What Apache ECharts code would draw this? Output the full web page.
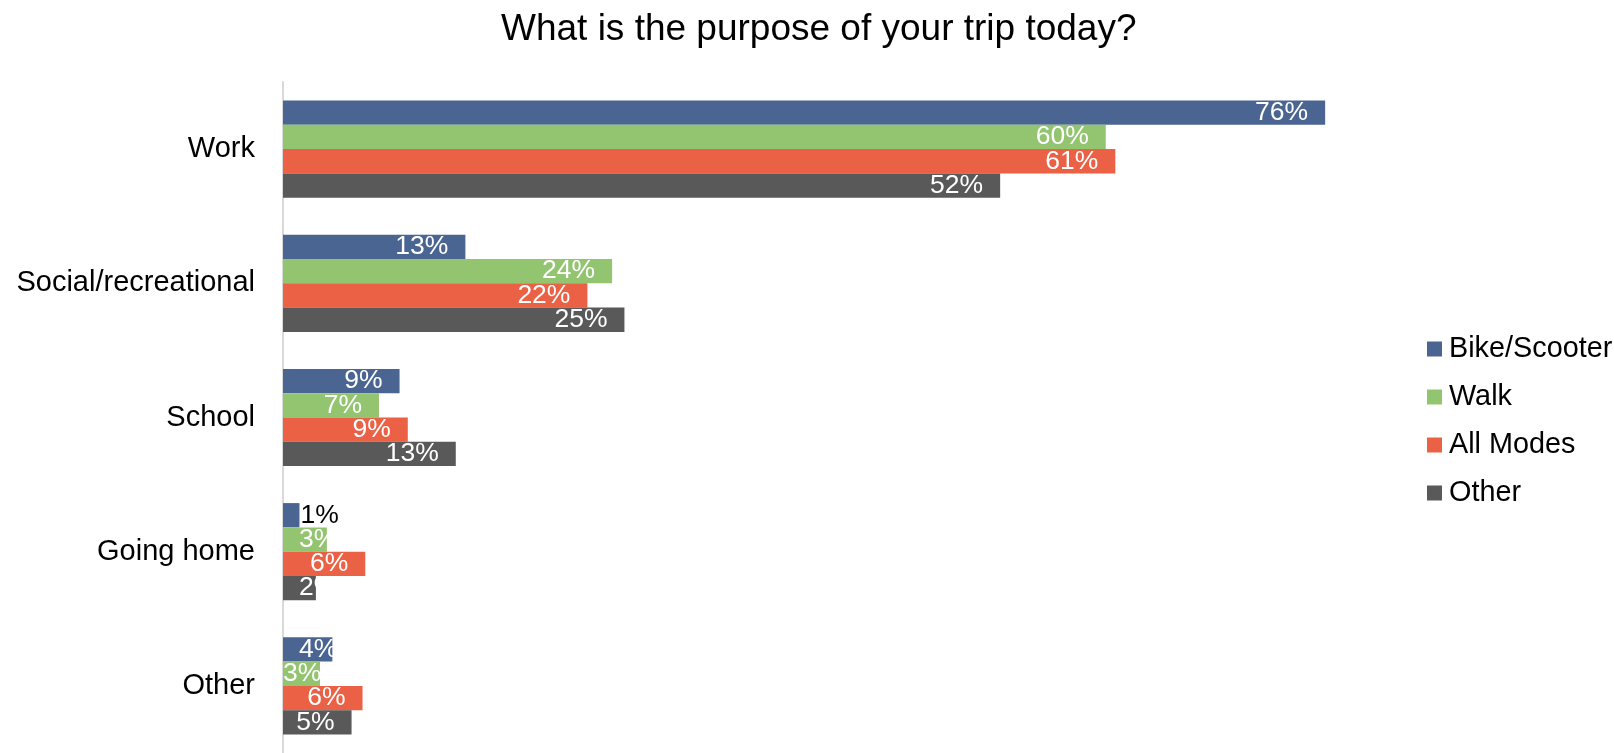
<!DOCTYPE html>
<html>
<head>
<meta charset="utf-8">
<title>What is the purpose of your trip today?</title>
<script src="https://cdn.jsdelivr.net/npm/echarts@6/dist/echarts.min.js"></script>
<style>
  html, body { margin: 0; padding: 0; background: #fff; }
  #chart { width: 1614px; height: 753px; }
</style>
</head>
<body>
<div id="chart"></div>
<script>
// Trip purpose shares (%) by travel mode
const categories = ['Work', 'Social/recreational', 'School', 'Going home', 'Other'];
const seriesNames = ['Bike/Scooter', 'Walk', 'All Modes', 'Other'];
const bikeScooter = [76.0, 13.3, 8.5, 1.2, 3.6];
const walk        = [60.0, 24.0, 7.0, 3.2, 2.7];
const allModes    = [60.7, 22.2, 9.1, 6.0, 5.8];
const otherMode   = [52.3, 24.9, 12.6, 2.4, 5.0];

const seriesValues = [bikeScooter, walk, allModes, otherMode];
const colors = ['#4A6592', '#93C470', '#EA6145', '#595959'];

// Label placement for bars too short to hold their label at the end
const labelOverrides = {
  '0-3': { position: 'right', distance: 1, color: '#000000' },
  '1-3': { position: 'insideLeft', distance: 16 },
  '3-3': { position: 'insideLeft', distance: 16 },
  '0-4': { position: 'insideLeft', distance: 16 },
  '1-4': { position: 'insideLeft', distance: 0 }
};

const FONT = '"Liberation Sans", Arial, sans-serif';

const series = seriesNames.map((name, s) => ({
  name: name,
  type: 'bar',
  barWidth: 24.3,
  barGap: '0%',
  itemStyle: { color: colors[s] },
  label: {
    show: true,
    position: 'insideRight',
    distance: 17,
    color: '#ffffff',
    fontSize: 26.5,
    fontFamily: FONT,
    formatter: p => Math.round(p.value) + '%'
  },
  data: seriesValues[s].map((v, c) => {
    const o = labelOverrides[s + '-' + c];
    return o ? { value: v, label: o } : v;
  })
}));

const chart = echarts.init(document.getElementById('chart'), null, { renderer: 'canvas' });
chart.setOption({
  animation: false,
  backgroundColor: '#ffffff',
  textStyle: { fontFamily: FONT },
  title: {
    text: 'What is the purpose of your trip today?',
    left: 496,
    top: 6,
    textStyle: { fontSize: 37, fontWeight: 'normal', color: '#000000', fontFamily: FONT }
  },
  legend: {
    orient: 'vertical',
    left: 1422,
    top: 329,
    itemWidth: 15,
    itemHeight: 15,
    itemGap: 18,
    icon: 'rect',
    data: seriesNames,
    textStyle: { fontSize: 28.8, color: '#000000', lineHeight: 30, fontFamily: FONT, padding: [0, 0, 0, 2] }
  },
  grid: { left: 283, top: 82, width: 1097, height: 676, containLabel: false },
  xAxis: {
    type: 'value',
    min: 0,
    max: 80,
    show: false,
    splitLine: { show: false }
  },
  yAxis: {
    type: 'category',
    inverse: true,
    data: categories,
    axisLine: { show: true, lineStyle: { color: '#D9D9D9', width: 2 } },
    axisTick: { show: false },
    axisLabel: { margin: 28, fontSize: 29, color: '#000000', fontFamily: FONT, padding: [7, 0, 0, 0] }
  },
  series: series
});
</script>
</body>
</html>
